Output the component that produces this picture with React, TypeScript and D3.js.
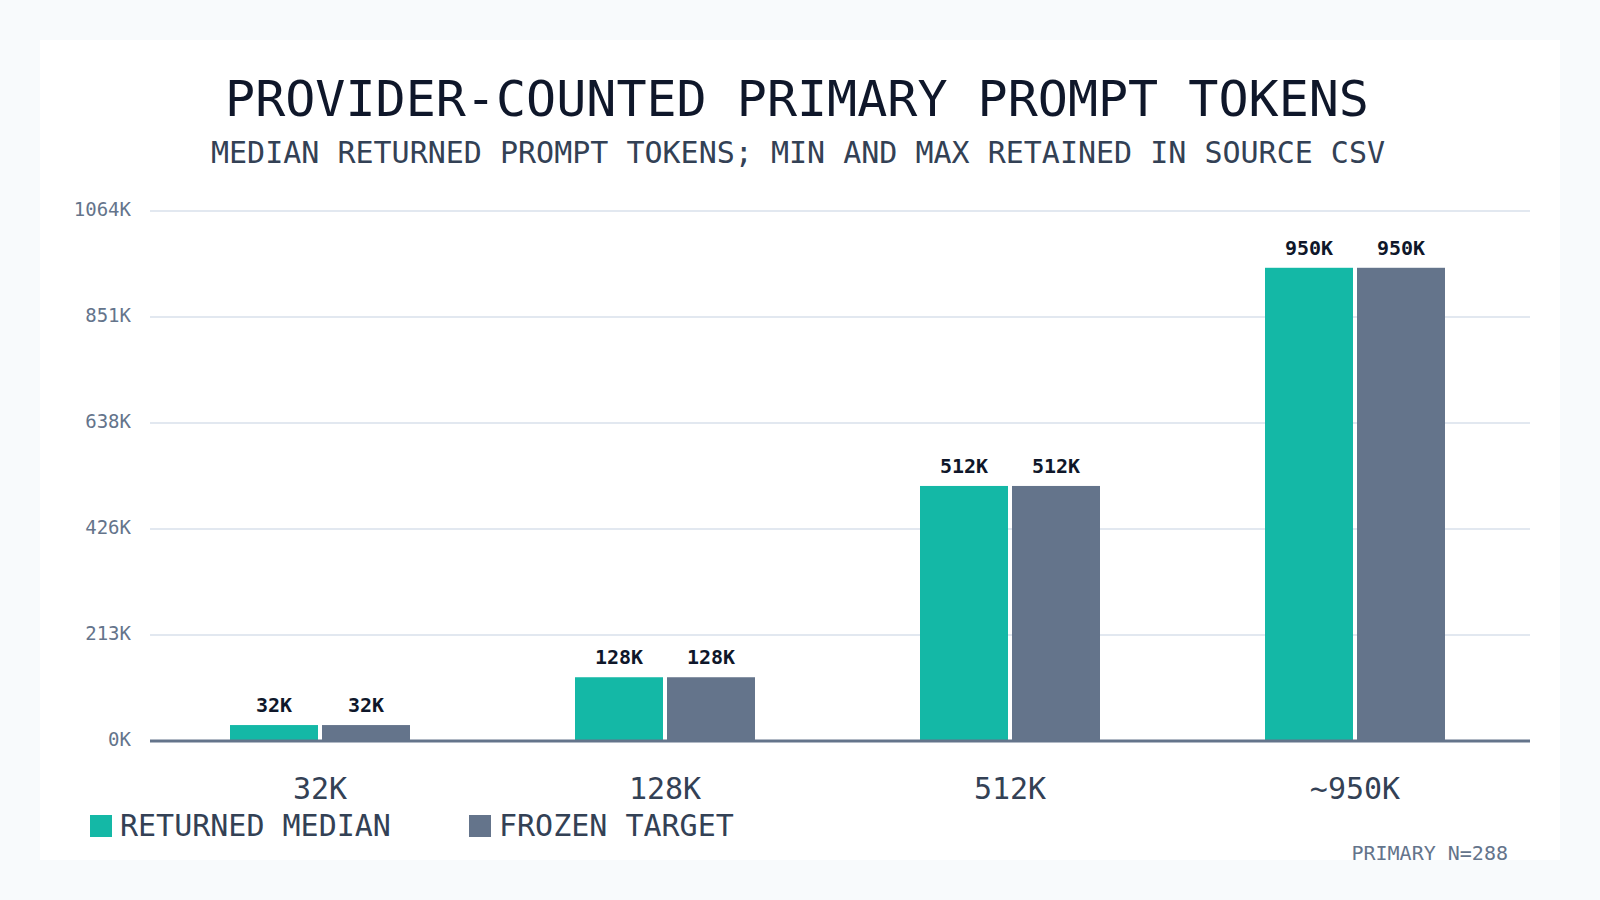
import { useEffect, useRef } from "react";
import * as d3 from "d3";

const categories = ["32K", "128K", "512K", "~950K"];
const seriesNames = ["RETURNED MEDIAN", "FROZEN TARGET"];
const returnedMedian = [32000, 128000, 512000, 950000];
const frozenTarget = [32000, 128000, 512000, 950000];
const valueLabels = ["32K", "128K", "512K", "950K"];
const seriesColors = ["#14b8a6", "#64748b"];

const FONT = "'DejaVu Sans Mono', 'Liberation Mono', monospace";

export default function App() {
  const svgRef = useRef<SVGSVGElement>(null);

  useEffect(() => {
    document.body.style.margin = "0";
    if (!svgRef.current) return;
    const svg = d3.select(svgRef.current);
    svg.selectAll("*").remove();

    const width = 1600;
    const height = 900;
    const plot = { left: 150, right: 1530, top: 211, bottom: 741 };

    svg.attr("viewBox", `0 0 ${width} ${height}`);

    // background + card
    svg.append("rect").attr("width", width).attr("height", height).attr("fill", "#f8fafc");
    svg.append("rect").attr("x", 40).attr("y", 40).attr("width", 1520).attr("height", 820).attr("fill", "#ffffff");

    // title
    svg
      .append("text")
      .attr("x", 797)
      .attr("y", 116)
      .attr("text-anchor", "middle")
      .attr("font-family", FONT)
      .attr("font-size", 50)
      .attr("fill", "#0f172a")
      .text("PROVIDER-COUNTED PRIMARY PROMPT TOKENS");

    svg
      .append("text")
      .attr("x", 798)
      .attr("y", 163)
      .attr("text-anchor", "middle")
      .attr("font-family", FONT)
      .attr("font-size", 30)
      .attr("fill", "#334155")
      .text("MEDIAN RETURNED PROMPT TOKENS; MIN AND MAX RETAINED IN SOURCE CSV");

    const maxVal = d3.max([...returnedMedian, ...frozenTarget]) as number;
    const yMax = maxVal * 1.12;

    const y = d3.scaleLinear().domain([0, yMax]).range([plot.bottom, plot.top]);
    const ticks = d3.range(0, 6).map((i) => (yMax / 5) * i);

    const x0 = d3
      .scaleBand<string>()
      .domain(categories)
      .range([plot.left - 2.5, plot.right - 2.5])
      .padding(0);

    const x1 = d3
      .scaleBand<number>()
      .domain([0, 1])
      .range([-90, 90])
      .paddingInner(4 / 92)
      .paddingOuter(0);

    // grid lines
    svg
      .append("g")
      .selectAll("line")
      .data(ticks.slice(1))
      .join("line")
      .attr("x1", plot.left)
      .attr("x2", plot.right)
      .attr("y1", (d) => y(d))
      .attr("y2", (d) => y(d))
      .attr("stroke", "#e2e8f0")
      .attr("stroke-width", 2);

    // y tick labels
    svg
      .append("g")
      .selectAll("text")
      .data(ticks)
      .join("text")
      .attr("x", 131)
      .attr("y", (d) => y(d) + 5)
      .attr("text-anchor", "end")
      .attr("font-family", FONT)
      .attr("font-size", 19)
      .attr("fill", "#64748b")
      .text((d) => `${Math.round(d / 1000)}K`);

    const seriesData = [returnedMedian, frozenTarget];

    // bars
    seriesData.forEach((vals, si) => {
      const g = svg.append("g");
      g.selectAll("rect")
        .data(vals)
        .join("rect")
        .attr("x", (_, i) => (x0(categories[i]) as number) + x0.bandwidth() / 2 + (x1(si) as number))
        .attr("y", (d) => y(d))
        .attr("width", x1.bandwidth())
        .attr("height", (d) => y(0) - y(d))
        .attr("fill", seriesColors[si]);

      g.selectAll("text")
        .data(vals)
        .join("text")
        .attr(
          "x",
          (_, i) =>
            (x0(categories[i]) as number) + x0.bandwidth() / 2 + (x1(si) as number) + x1.bandwidth() / 2
        )
        .attr("y", (d) => y(d) - 13)
        .attr("text-anchor", "middle")
        .attr("font-family", FONT)
        .attr("font-size", 20)
        .attr("font-weight", "bold")
        .attr("fill", "#0f172a")
        .text((_, i) => valueLabels[i]);
    });

    // baseline axis
    svg
      .append("line")
      .attr("x1", plot.left)
      .attr("x2", plot.right)
      .attr("y1", y(0))
      .attr("y2", y(0))
      .attr("stroke", "#64748b")
      .attr("stroke-width", 3);

    // category labels
    svg
      .append("g")
      .selectAll("text")
      .data(categories)
      .join("text")
      .attr("x", (d) => (x0(d) as number) + x0.bandwidth() / 2)
      .attr("y", 799)
      .attr("text-anchor", "middle")
      .attr("font-family", FONT)
      .attr("font-size", 30)
      .attr("fill", "#334155")
      .text((d) => d);

    // legend
    const legend = svg
      .append("g")
      .selectAll("g")
      .data(seriesNames)
      .join("g")
      .attr("transform", (_, i) => `translate(${90 + i * 379},815)`);

    legend
      .append("rect")
      .attr("width", 22)
      .attr("height", 22)
      .attr("fill", (_, i) => seriesColors[i]);

    legend
      .append("text")
      .attr("x", 30)
      .attr("y", 21)
      .attr("font-family", FONT)
      .attr("font-size", 30)
      .attr("fill", "#334155")
      .text((d) => d);

    // footnote
    svg
      .append("text")
      .attr("x", 1508)
      .attr("y", 860)
      .attr("text-anchor", "end")
      .attr("font-family", FONT)
      .attr("font-size", 20)
      .attr("fill", "#64748b")
      .text("PRIMARY N=288");
  }, []);

  return (
    <div style={{ width: 1600, height: 900 }}>
      <svg ref={svgRef} width={1600} height={900} style={{ display: "block" }} />
    </div>
  );
}
